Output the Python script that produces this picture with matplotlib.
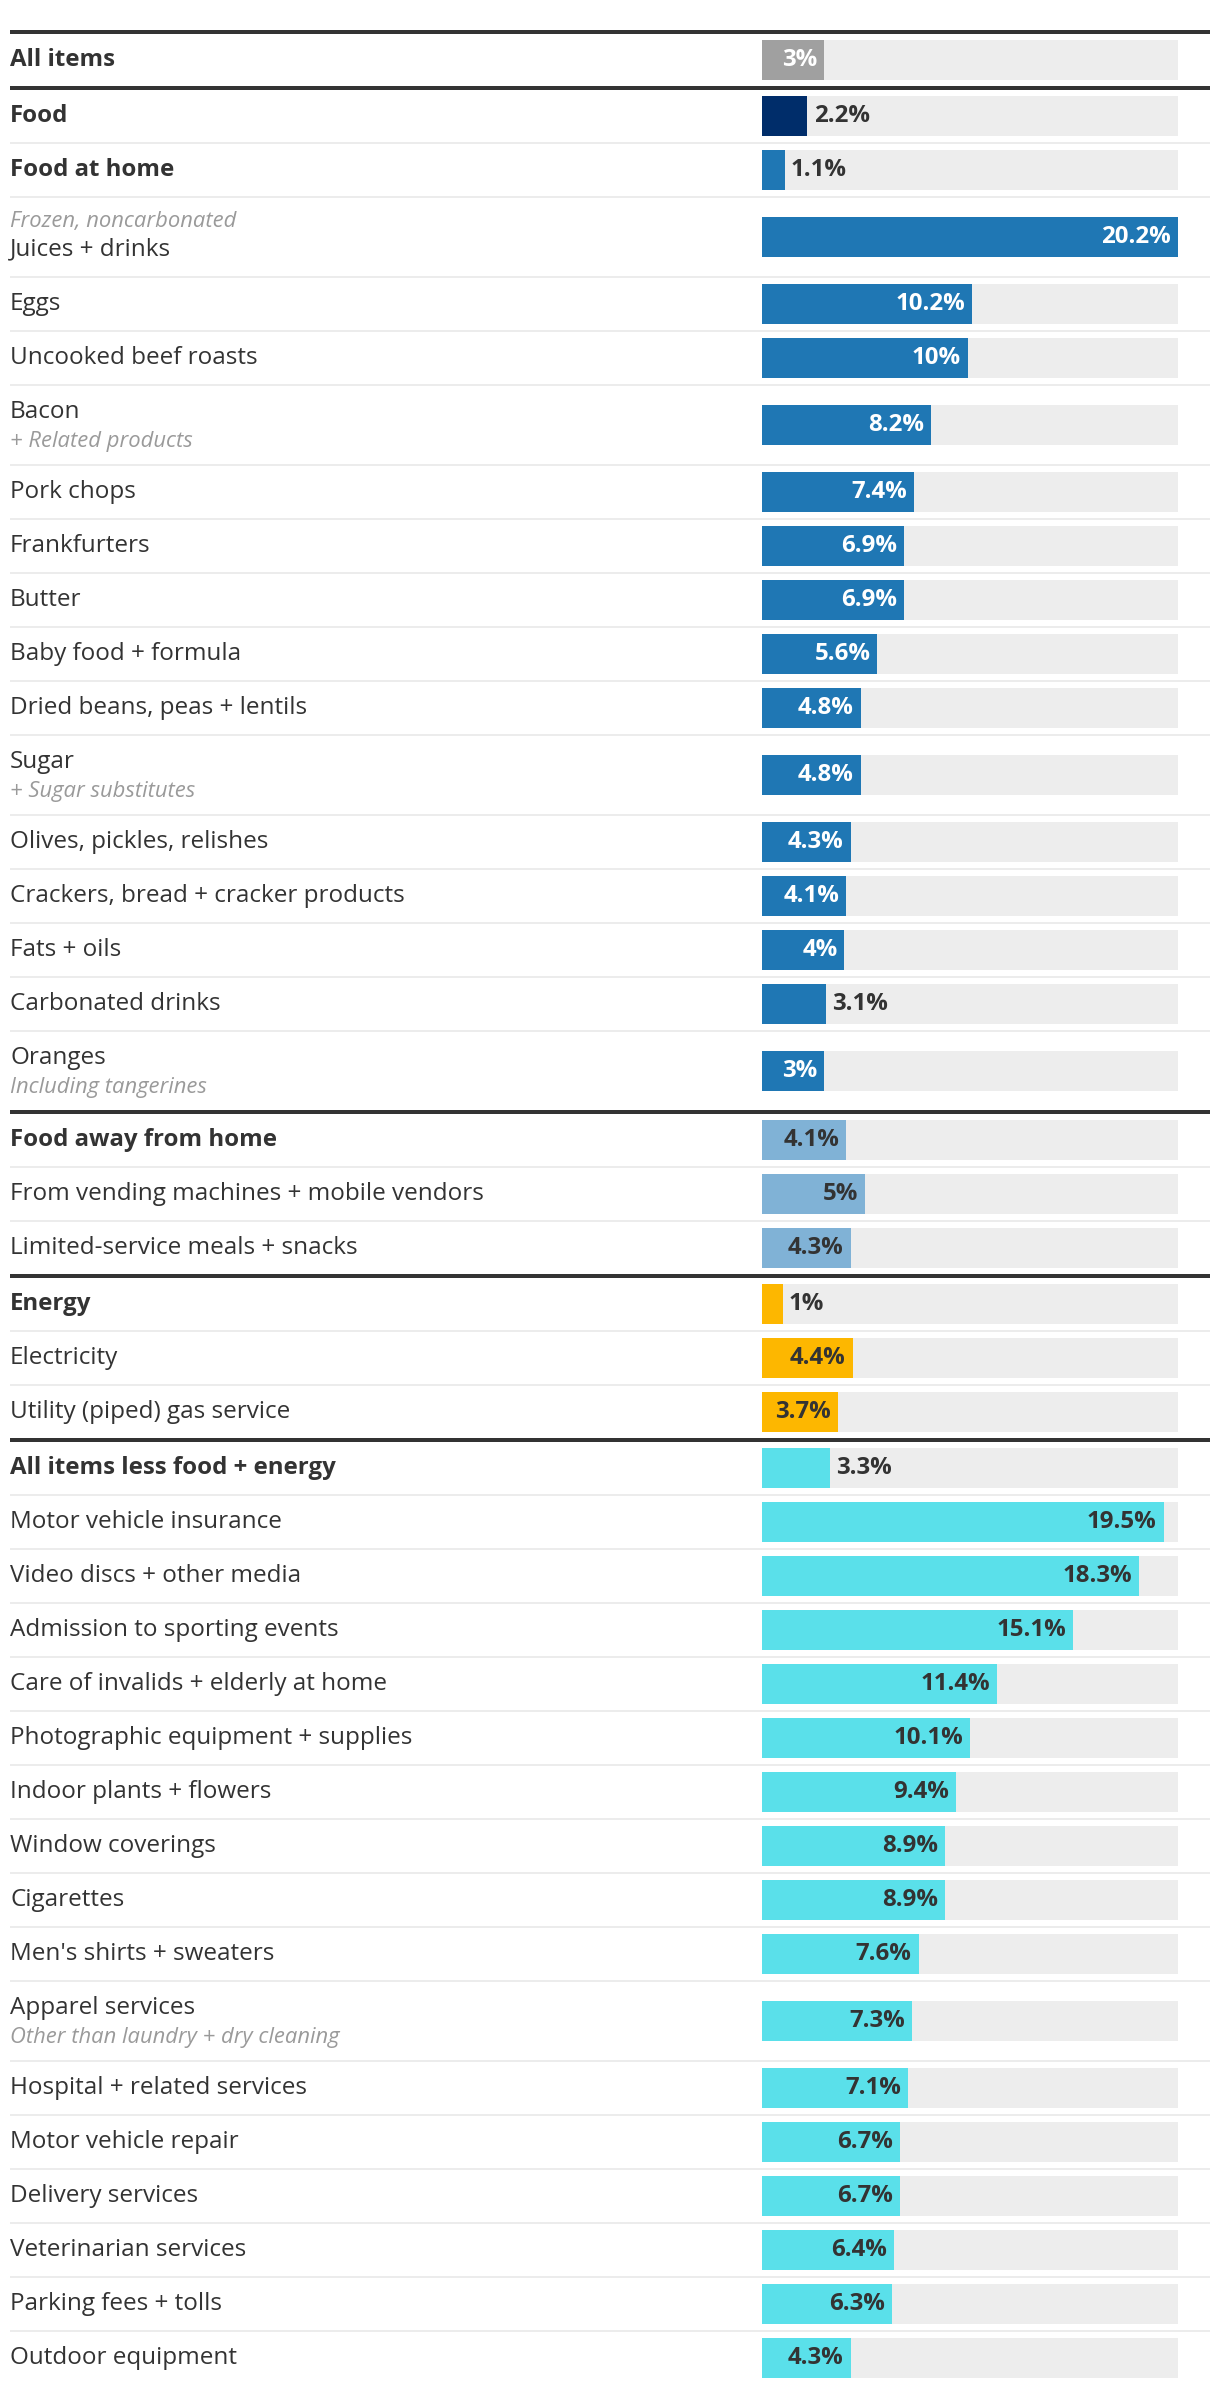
import matplotlib
matplotlib.use("Agg")
import matplotlib.pyplot as plt

# ---------------- data ----------------
labels = [
    "All items",
    "Food", "Food at home", "Juices + drinks", "Eggs", "Uncooked beef roasts", "Bacon",
    "Pork chops", "Frankfurters", "Butter", "Baby food + formula", "Dried beans, peas + lentils",
    "Sugar", "Olives, pickles, relishes", "Crackers, bread + cracker products", "Fats + oils",
    "Carbonated drinks", "Oranges",
    "Food away from home", "From vending machines + mobile vendors", "Limited-service meals + snacks",
    "Energy", "Electricity", "Utility (piped) gas service",
    "All items less food + energy", "Motor vehicle insurance", "Video discs + other media",
    "Admission to sporting events", "Care of invalids + elderly at home",
    "Photographic equipment + supplies", "Indoor plants + flowers", "Window coverings",
    "Cigarettes", "Men's shirts + sweaters", "Apparel services", "Hospital + related services",
    "Motor vehicle repair", "Delivery services", "Veterinarian services", "Parking fees + tolls",
    "Outdoor equipment",
]
values = [
    3.0,
    2.2, 1.1, 20.2, 10.2, 10.0, 8.2, 7.4, 6.9, 6.9, 5.6, 4.8, 4.8, 4.3, 4.1, 4.0, 3.1, 3.0,
    4.1, 5.0, 4.3,
    1.0, 4.4, 3.7,
    3.3, 19.5, 18.3, 15.1, 11.4, 10.1, 9.4, 8.9, 8.9, 7.6, 7.3, 7.1, 6.7, 6.7, 6.4, 6.3, 4.3,
]
groups = (["all"] + ["food"] + ["home"] * 16 + ["away"] * 3 + ["energy"] * 3 + ["core"] * 17)
bold_rows = ["All items", "Food", "Food at home", "Food away from home", "Energy",
             "All items less food + energy"]
subtitles = {
    "Juices + drinks": ("Frozen, noncarbonated", "above"),
    "Bacon": ("+ Related products", "below"),
    "Sugar": ("+ Sugar substitutes", "below"),
    "Oranges": ("Including tangerines", "below"),
    "Apparel services": ("Other than laundry + dry cleaning", "below"),
}
outside_labels = ["Food", "Food at home", "Carbonated drinks", "Energy",
                  "All items less food + energy"]
axis_max = 20.2

# ---------------- styles ----------------
group_colors = {"all": "#a0a0a0", "food": "#002d6a", "home": "#1f77b4",
                "away": "#80b2d6", "energy": "#fdb700", "core": "#5ae0ea"}
inside_text = {"all": "white", "food": "white", "home": "white",
               "away": "#333333", "energy": "#333333", "core": "#333333"}
TRACK = "#ededed"
DARK = "#333333"
SEP = "#ececec"
FONT = "Open Sans"
LABEL_FS = 17.5
BOLD_FS = 17.3
SUB_FS = 15.8
VAL_FS = 17.3

W, H = 1220, 2394
fig = plt.figure(figsize=(W / 100, H / 100), dpi=100)
ax = fig.add_axes([0, 0, 1, 1])
ax.set_xlim(0, W)
ax.set_ylim(H, 0)
ax.axis("off")

bx0, bx1 = 762, 1178
bax = fig.add_axes([bx0 / W, 0, (bx1 - bx0) / W, 1])
bax.set_xlim(0, axis_max)
bax.set_ylim(H, 0)
bax.axis("off")

# ---------------- layout (pixel rows) ----------------
THICK, THIN = 4, 2
SINGLE, DOUBLE = 52, 78
y = 32 - THICK / 2
lines = []  # (center, thick?)
centers = []
prev_group = None
for i, lab in enumerate(labels):
    g = groups[i]
    grp_key = "food" if g in ("food", "home") else g
    is_thick = (prev_group is None) or (grp_key != prev_group)
    t = THICK if is_thick else THIN
    lines.append((y + t / 2, is_thick))
    y += t
    h = DOUBLE if lab in subtitles else SINGLE
    centers.append(y + h / 2)
    y += h
    prev_group = grp_key

for yc, thick in lines:
    ax.plot([10, 1210], [yc, yc], color=DARK if thick else SEP,
            lw=(THICK if thick else THIN) * 0.72, solid_capstyle="butt")

BAR_H = 40
bax.barh(centers, [axis_max] * len(centers), height=BAR_H, color=TRACK, linewidth=0)
bax.barh(centers, values, height=BAR_H, color=[group_colors[g] for g in groups], linewidth=0)

for i, lab in enumerate(labels):
    c = centers[i]
    is_bold = lab in bold_rows
    if lab in subtitles:
        sub, pos = subtitles[lab]
        if pos == "above":
            ys, ym = c - 16, c + 12
        else:
            ym, ys = c - 13, c + 16
        ax.text(10, ys, sub, fontsize=SUB_FS, family=FONT, style="italic", color="#9a9a9a",
                va="center")
    else:
        ym = c
    ax.text(10, ym, lab, fontsize=BOLD_FS if is_bold else LABEL_FS, family=FONT,
            weight="bold" if is_bold else "normal", color=DARK, va="center")

    v = values[i]
    txt = f"{v:g}%"
    if lab in outside_labels:
        bax.annotate(txt, (v, c), xytext=(4.5, 0), textcoords="offset points",
                     ha="left", va="center", fontsize=VAL_FS, family=FONT, weight="bold",
                     color=DARK)
    else:
        bax.annotate(txt, (v, c), xytext=(-5, 0), textcoords="offset points",
                     ha="right", va="center", fontsize=VAL_FS, family=FONT, weight="bold",
                     color=inside_text[groups[i]])

fig.savefig("out.png", dpi=100, facecolor="white")
